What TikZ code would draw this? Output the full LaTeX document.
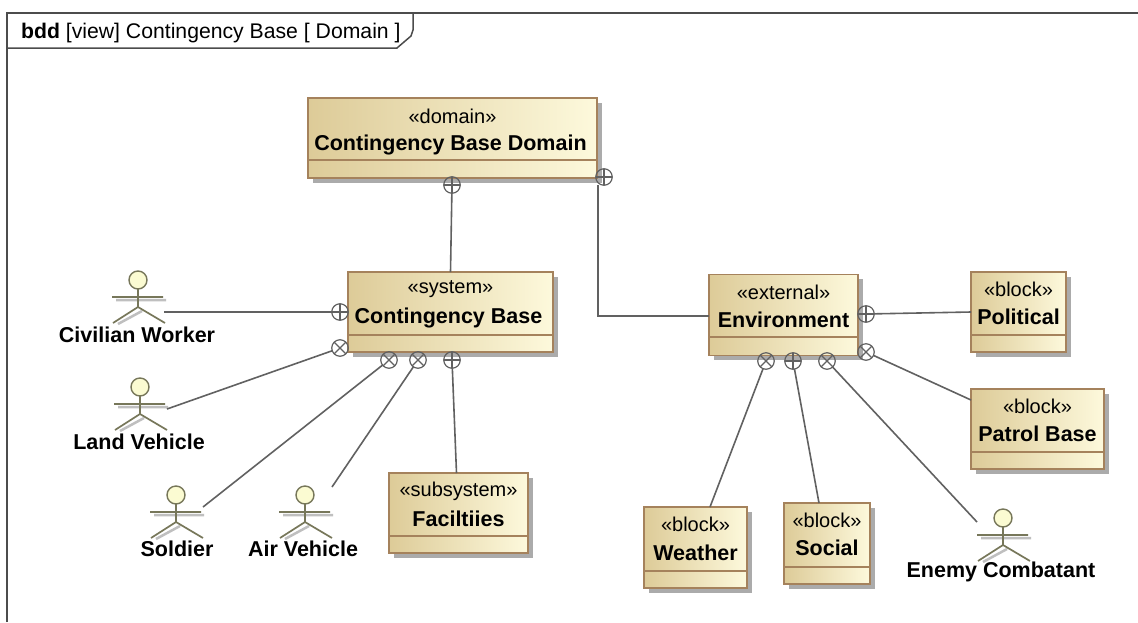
\documentclass[tikz,border=0pt]{standalone}
\usepackage{fontspec}
\setmainfont{Liberation Sans}
\usetikzlibrary{shadows}
\definecolor{boxleft}{HTML}{DDCB98}
\definecolor{boxright}{HTML}{FDF9DC}
\definecolor{boxline}{HTML}{A5825C}
\definecolor{actorline}{HTML}{77775A}
\definecolor{actorhead}{HTML}{FBFBD2}
\tikzset{
	umlblock/.style={draw=boxline,line width=1.5pt,left color=boxleft,right color=boxright,inner sep=0pt,outer sep=0pt,drop shadow={shadow xshift=4.5pt,shadow yshift=-4.5pt,fill=black!55,opacity=.6}},
	compart/.style={draw=boxline,line width=1.5pt},
	stereo/.style={font=\fontsize{20}{22}\selectfont,inner sep=0pt},
	blockname/.style={font=\fontsize{21.5}{24}\selectfont\bfseries,inner sep=0pt},
	assoc/.style={draw=black!62,line width=1.6pt},
	partplus/.style={circle,draw=black!62,line width=1.2pt,minimum size=16.5pt,inner sep=0pt,outer sep=0pt,path picture={\draw[black!62,line width=1.1pt] (path picture bounding box.north) -- (path picture bounding box.south) (path picture bounding box.west) -- (path picture bounding box.east);}},
	partcross/.style={circle,draw=black!62,line width=1.2pt,minimum size=16.5pt,inner sep=0pt,outer sep=0pt,path picture={\draw[black!62,line width=1.1pt] (path picture bounding box.north west) -- (path picture bounding box.south east) (path picture bounding box.north east) -- (path picture bounding box.south west);}},
	actorhead/.style={circle,draw=actorline,fill=actorhead,line width=1.4pt,minimum size=18pt,inner sep=0pt,outer sep=0pt},
	actorname/.style={font=\fontsize{21.5}{24}\selectfont\bfseries,inner sep=0pt},
	actorbody/.pic={
		\draw[black!25,line width=2.5pt] (-22,20) -- (28,20) (4,31) -- (-20,44);
		\draw[actorline,line width=1.7pt] (0,9) -- (0,27) (-26,17) -- (25,17) (-25,43) -- (0,27) -- (27,43);
	},
}
\begin{document}
\begin{tikzpicture}[x=1pt,y=-1pt]
	\useasboundingbox (0,0) rectangle (1138,622);
	\fill[white] (0,0) rectangle (1138,622);
	%frame
	\draw[black!70,line width=1.5pt] (7,622) -- (7,13) -- (1138,13);
	\draw[black!70,line width=1.5pt] (7,48) -- (397,48) -- (411,36) -- (413,30) -- (413,13);
	\node[anchor=base west,inner sep=0pt,font=\fontsize{21.2}{24}\selectfont] (title) at (21,38) {\textbf{bdd} [view] Contingency Base [ Domain ]};
	%boxes
	\node[umlblock,minimum width=289pt,minimum height=80pt] (domain) at (452.5,138) {};
	\node[umlblock,minimum width=205pt,minimum height=80pt] (base) at (450.5,312) {};
	\node[umlblock,minimum width=139pt,minimum height=80pt] (facilities) at (458.5,513) {};
	\node[umlblock,minimum width=149pt,minimum height=81pt] (environment) at (783.5,315) {};
	\node[umlblock,minimum width=95pt,minimum height=80pt] (political) at (1018.5,312) {};
	\node[umlblock,minimum width=133pt,minimum height=80pt] (patrol) at (1037.5,429) {};
	\node[umlblock,minimum width=103pt,minimum height=81pt] (weather) at (695.5,547.5) {};
	\node[umlblock,minimum width=86pt,minimum height=81pt] (social) at (827,543.5) {};
	%compartments
	\draw[compart] (domain.west |- 0,160) -- (domain.east |- 0,160);
	\draw[compart] (base.west |- 0,335) -- (base.east |- 0,335);
	\draw[compart] (facilities.west |- 0,536) -- (facilities.east |- 0,536);
	\draw[compart] (environment.west |- 0,337) -- (environment.east |- 0,337);
	\draw[compart] (political.west |- 0,335) -- (political.east |- 0,335);
	\draw[compart] (patrol.west |- 0,452) -- (patrol.east |- 0,452);
	\draw[compart] (weather.west |- 0,571) -- (weather.east |- 0,571);
	\draw[compart] (social.west |- 0,567) -- (social.east |- 0,567);
	%box texts
	\node[stereo] (domainst) at ([yshift=-18pt]domain.north) {«domain»};
	\node[blockname] (domainname) at ([xshift=-2pt,yshift=-47pt]domain.north) {Contingency Base Domain};
	\node[stereo] (basest) at ([yshift=-17pt]base.north) {«system»};
	\node[blockname] (basename) at ([xshift=-2pt,yshift=-46pt]base.north) {Contingency Base};
	\node[stereo] (facilitiesst) at ([yshift=-18pt]facilities.north) {«subsystem»};
	\node[blockname] (facilitiesname) at ([yshift=-46pt]facilities.north) {Faciltiies};
	\node[stereo] (environmentst) at ([yshift=-18pt]environment.north) {«external»};
	\node[blockname] (environmentname) at ([yshift=-45pt]environment.north) {Environment};
	\node[stereo] (politicalst) at ([yshift=-17pt]political.north) {«block»};
	\node[blockname] (politicalname) at ([yshift=-45pt]political.north) {Political};
	\node[stereo] (patrolst) at ([yshift=-17pt]patrol.north) {«block»};
	\node[blockname] (patrolname) at ([yshift=-45pt]patrol.north) {Patrol Base};
	\node[stereo] (weatherst) at ([yshift=-17pt]weather.north) {«block»};
	\node[blockname] (weathername) at ([yshift=-46pt]weather.north) {Weather};
	\node[stereo] (socialst) at ([yshift=-17pt]social.north) {«block»};
	\node[blockname] (socialname) at ([yshift=-45pt]social.north) {Social};
	%part symbols
	\node[partplus] (domainbase) at (452,185) {};
	\node[partplus] (domainenv) at (604,177) {};
	\node[partplus] (basecivilian) at (340,312) {};
	\node[partcross] (baseland) at (340,348) {};
	\node[partcross] (basesoldier) at (389,360) {};
	\node[partcross] (baseair) at (418,360) {};
	\node[partplus] (basefacilities) at (452,360) {};
	\node[partplus] (envpolitical) at (866,314) {};
	\node[partcross] (envpatrol) at (866,352) {};
	\node[partcross] (envweather) at (766,361) {};
	\node[partplus] (envsocial) at (793,361) {};
	\node[partcross] (envenemy) at (827,361) {};
	%actors
	\pic at (138,280) {actorbody};
	\node[actorhead] (civilianhead) at (138,280) {};
	\node[actorname] (civilian) at (137,335) {Civilian Worker};
	\coordinate (civilianend) at (164,312);
	\pic at (140,387) {actorbody};
	\node[actorhead] (landhead) at (140,387) {};
	\node[actorname] (land) at (139,442) {Land Vehicle};
	\coordinate (landend) at (167,409);
	\pic at (176,495) {actorbody};
	\node[actorhead] (soldierhead) at (176,495) {};
	\node[actorname] (soldier) at (177,549) {Soldier};
	\coordinate (soldierend) at (203,507);
	\pic at (305,495) {actorbody};
	\node[actorhead] (airhead) at (305,495) {};
	\node[actorname] (air) at (303,549) {Air Vehicle};
	\coordinate (airend) at (332,487);
	\pic at (1003,518) {actorbody};
	\node[actorhead] (enemyhead) at (1003,518) {};
	\node[actorname] (enemy) at (1001,572) {Enemy Combatant};
	\coordinate (enemyend) at (977,522);
	%connectors
	\draw[assoc] (domainbase) -- (base.north);
	\draw[assoc] ([xshift=-6pt]domainenv.south) |- ([yshift=-1pt]environment.west);
	\draw[assoc] (civilianend) -- (basecivilian);
	\draw[assoc] (landend) -- (baseland);
	\draw[assoc] (soldierend) -- (basesoldier);
	\draw[assoc] (airend) -- (baseair);
	\draw[assoc] (basefacilities) -- ([xshift=-2pt]facilities.north);
	\draw[assoc] (envpolitical) -- (political.west);
	\draw[assoc] (envpatrol) -- ([yshift=29pt]patrol.west);
	\draw[assoc] (envweather) -- ([xshift=14.5pt]weather.north);
	\draw[assoc] (envsocial) -- ([xshift=-8pt]social.north);
	\draw[assoc] (envenemy) -- (enemyend);
\end{tikzpicture}
\end{document}
